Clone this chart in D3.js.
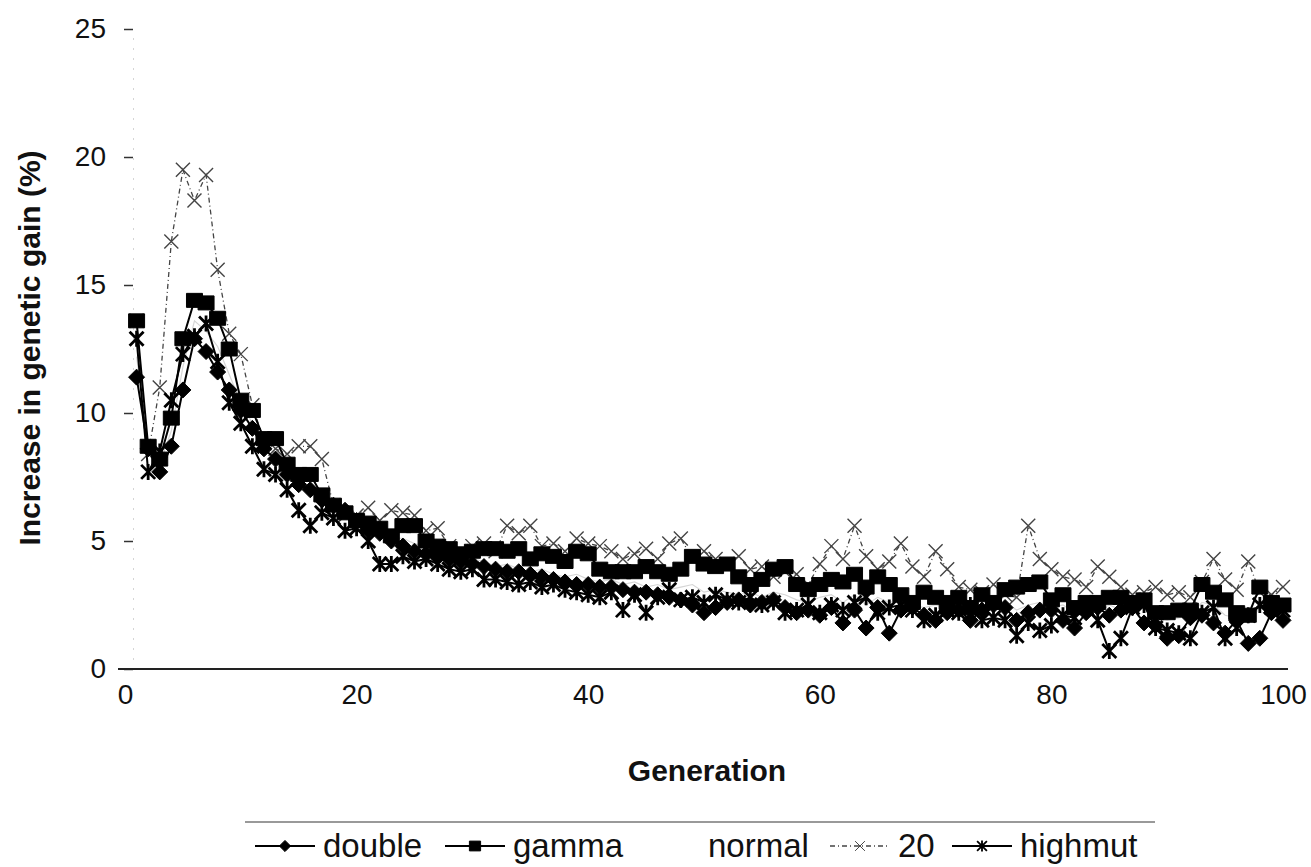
<!DOCTYPE html>
<html lang="en">
<head>
  <meta charset="UTF-8">
  <title>Increase in genetic gain by generation</title>
  <script src="https://d3js.org/d3.v7.min.js"></script>
  <style>
    body { margin: 0; background: #fff; }
    text { font-family: Arial, "Liberation Sans", sans-serif; fill: #111; }
    .axis-title { font-weight: bold; }
  </style>
</head>
<body>
<script>
  // generations on the x axis
  const generations = d3.range(1, 101);

  // series values (% increase in genetic gain)
  const doubleVals = [
    11.4, 8.6, 7.7, 8.7, 10.9, 12.9, 12.4, 11.6, 10.9, 10.1,
    9.4, 8.6, 8.2, 7.6, 7.2, 7.0, 6.6, 6.4, 6.2, 5.8,
    5.4, 5.3, 5.0, 4.8, 4.6, 4.5, 4.4, 4.3, 4.2, 4.1,
    4.0, 3.9, 3.8, 3.8, 3.7, 3.6, 3.5, 3.4, 3.3, 3.3,
    3.2, 3.2, 3.1, 3.0, 3.0, 2.9, 2.8, 2.7, 2.5, 2.2,
    2.4, 2.6, 2.7, 2.5, 2.6, 2.7, 2.4, 2.2, 2.3, 2.1,
    2.4, 1.8, 2.3, 1.6, 2.4, 1.4, 2.3, 2.4, 2.1, 1.9,
    2.2, 2.3, 1.9, 2.3, 2.5, 2.4, 1.9, 2.2, 2.3, 2.3,
    1.9, 1.6, 2.2, 2.4, 2.1, 2.3, 2.4, 1.8, 1.7, 1.2,
    1.3, 2.0, 2.1, 1.8, 1.4, 1.9, 1.0, 1.2, 2.2, 1.9
  ];
  const gammaVals = [
    13.6, 8.7, 8.2, 9.8, 12.9, 14.4, 14.3, 13.7, 12.5, 10.5,
    10.1, 9.0, 9.0, 8.0, 7.6, 7.6, 6.8, 6.4, 6.1, 5.8,
    5.7, 5.5, 5.2, 5.6, 5.6, 5.0, 4.8, 4.7, 4.5, 4.6,
    4.7, 4.7, 4.6, 4.7, 4.3, 4.5, 4.4, 4.2, 4.6, 4.5,
    3.9, 3.8, 3.8, 3.8, 4.0, 3.8, 3.7, 3.9, 4.4, 4.1,
    4.0, 4.1, 3.6, 3.3, 3.5, 3.9, 4.0, 3.3, 3.1, 3.3,
    3.5, 3.4, 3.7, 3.2, 3.6, 3.3, 2.9, 2.6, 3.0, 2.8,
    2.6, 2.8, 2.4, 2.9, 2.6, 3.1, 3.2, 3.3, 3.4, 2.7,
    2.9, 2.4, 2.6, 2.6, 2.8, 2.8, 2.6, 2.7, 2.2, 2.2,
    2.3, 2.3, 3.3, 3.0, 2.7, 2.2, 2.1, 3.2, 2.6, 2.5
  ];
  const normalVals = [
    12.2, 8.8, 8.0, 9.3, 11.8, 13.6, 13.2, 12.6, 11.5, 10.4,
    9.6, 8.8, 8.4, 7.8, 7.3, 7.2, 6.7, 6.3, 6.0, 5.7,
    5.6, 5.3, 5.1, 5.1, 4.9, 4.8, 4.6, 4.5, 4.3, 4.3,
    4.2, 4.0, 4.1, 3.9, 3.8, 3.9, 3.7, 3.6, 3.7, 3.5,
    3.4, 3.5, 3.3, 3.4, 3.2, 3.3, 3.1, 3.2, 3.3, 3.0,
    3.1, 3.0, 2.9, 3.0, 2.8, 3.0, 2.9, 2.7, 2.6, 2.8,
    2.9, 2.6, 2.9, 2.5, 2.8, 2.6, 2.7, 2.5, 2.4, 2.5,
    2.4, 2.6, 2.3, 2.5, 2.4, 2.6, 2.3, 2.5, 2.6, 2.4,
    2.5, 2.2, 2.4, 2.3, 2.5, 2.3, 2.5, 2.4, 2.0, 1.9,
    2.0, 2.1, 2.6, 2.5, 2.1, 2.0, 1.8, 2.4, 2.3, 2.2
  ];
  const twentyVals = [
    13.6, 8.4, 11.0, 16.7, 19.5, 18.3, 19.3, 15.6, 13.1, 12.3,
    10.3, 8.9, 8.6, 8.4, 8.7, 8.7, 8.2, 6.4, 6.0, 6.0,
    6.3, 5.8, 6.2, 6.1, 6.0, 5.4, 5.5, 4.8, 4.6, 4.8,
    4.9, 4.6, 5.6, 5.3, 5.6, 4.8, 4.9, 4.6, 5.1, 4.9,
    4.8, 4.6, 4.3, 4.5, 4.7, 4.3, 4.9, 5.1, 4.3, 4.6,
    4.3, 4.1, 4.4, 3.9, 4.0, 3.6, 3.8, 3.7, 3.3, 4.1,
    4.8, 4.3, 5.6, 4.4, 3.9, 4.2, 4.9, 4.0, 3.6, 4.6,
    3.9, 3.2, 3.1, 3.0, 3.3, 2.9, 2.8, 5.6, 4.3, 3.9,
    3.6, 3.5, 3.2, 4.0, 3.6, 3.2, 2.9, 3.0, 3.2, 2.9,
    3.0, 2.8, 3.4, 4.3, 3.5, 3.1, 4.2, 3.0, 2.9, 3.2
  ];
  const highmutVals = [
    12.9, 7.7, 8.5, 10.5, 12.3, 13.0, 13.5, 12.0, 10.4, 9.6,
    8.7, 7.8, 7.6, 7.0, 6.2, 5.6, 6.1, 5.9, 5.4, 5.5,
    5.0, 4.1, 4.1, 4.4, 4.2, 4.3, 4.1, 3.9, 3.8, 3.9,
    3.5, 3.5, 3.4, 3.3, 3.4, 3.2, 3.3, 3.1, 3.0, 2.9,
    2.8, 3.0, 2.3, 2.9, 2.2, 2.8, 3.1, 2.7, 2.8, 2.6,
    2.9, 2.7, 2.6, 2.8, 2.5, 2.6, 2.2, 2.3, 2.5, 2.2,
    2.5, 2.3, 2.6, 2.8, 2.2, 2.4, 2.5, 2.3, 1.9, 2.1,
    2.3, 2.2, 2.5, 1.9, 2.0, 1.9, 1.3, 1.8, 1.5, 1.7,
    2.1, 2.0, 2.5, 1.9, 0.7, 1.2, 2.4, 2.5, 1.6, 1.5,
    1.4, 1.2, 2.2, 2.4, 1.2, 1.6, 2.1, 2.5, 2.4, 2.3
  ];

  const seriesNames = ["double", "gamma", "normal", "20", "highmut"];
  const yTicks = [0, 5, 10, 15, 20, 25];
  const xTicks = [0, 20, 40, 60, 80, 100];

  // marker shapes (centered at 0,0)
  const markerPath = {
    diamond: "M0,-8L8,0L0,8L-8,0Z",
    square: "M-8,-7H8V7H-8Z",
    cross: "M-7,-7L7,7M-7,7L7,-7",
    star: "M-7,-7L7,7M-7,7L7,-7M0,-8V8",
    none: ""
  };

  const series = [
    { name: "normal", values: normalVals, stroke: "#d6d6d6", width: 1.2, dash: null, marker: "none" },
    { name: "20", values: twentyVals, stroke: "#444", width: 1.3, dash: "5,3,1,3", marker: "cross" },
    { name: "highmut", values: highmutVals, stroke: "#000", width: 2, dash: null, marker: "star" },
    { name: "double", values: doubleVals, stroke: "#000", width: 2, dash: null, marker: "diamond" },
    { name: "gamma", values: gammaVals, stroke: "#000", width: 2, dash: null, marker: "square" }
  ];

  const width = 1311, height = 867;
  const svg = d3.select("body").append("svg")
    .attr("width", width)
    .attr("height", height);

  const x = d3.scaleLinear().domain([0, 100]).range([125, 1283]);
  const y = d3.scaleLinear().domain([0, 25]).range([669, 29]);

  // y axis: faint dotted line with short outside ticks
  const yAxis = svg.append("g")
    .attr("transform", "translate(133,0)")
    .call(d3.axisLeft(y).tickValues(yTicks).tickSize(9).tickPadding(18).tickSizeOuter(0));
  yAxis.select(".domain").attr("stroke", "#aaa").attr("stroke-dasharray", "1,9");
  yAxis.selectAll(".tick line").attr("stroke", "#333").attr("stroke-width", 1.5);
  yAxis.selectAll(".tick text").style("font-size", "28px").attr("fill", "#111");

  // x axis: solid baseline, no tick marks
  const xAxis = svg.append("g")
    .attr("transform", "translate(0,669)")
    .call(d3.axisBottom(x).tickValues(xTicks).tickSize(0).tickPadding(15).tickSizeOuter(0));
  xAxis.select(".domain").attr("stroke", "#222").attr("stroke-width", 2)
    .attr("d", "M118,0H1288");
  xAxis.selectAll(".tick text").style("font-size", "28px").attr("fill", "#111");

  // axis titles
  svg.append("text")
    .attr("class", "axis-title")
    .attr("transform", "translate(40,348) rotate(-90)")
    .attr("text-anchor", "middle")
    .style("font-size", "30px")
    .text("Increase in genetic gain (%)");

  svg.append("text")
    .attr("class", "axis-title")
    .attr("x", 707)
    .attr("y", 781)
    .attr("text-anchor", "middle")
    .style("font-size", "30px")
    .text("Generation");

  // lines and markers
  const line = d3.line()
    .x((d, i) => x(generations[i]))
    .y(d => y(d));

  const plot = svg.append("g");
  series.forEach(s => {
    plot.append("path")
      .datum(s.values)
      .attr("fill", "none")
      .attr("stroke", s.stroke)
      .attr("stroke-width", s.width)
      .attr("stroke-dasharray", s.dash)
      .attr("d", line);

    if (s.marker === "none") return;
    const filled = s.marker === "diamond" || s.marker === "square";
    plot.append("g").selectAll("path")
      .data(s.values)
      .enter().append("path")
      .attr("transform", (d, i) => `translate(${x(generations[i])},${y(d)})`)
      .attr("d", markerPath[s.marker])
      .attr("fill", filled ? "#000" : "none")
      .attr("stroke", s.stroke)
      .attr("stroke-width", s.marker === "star" ? 2.8 : (s.marker === "cross" ? 1.4 : 1));
  });

  // legend
  svg.append("line")
    .attr("x1", 245).attr("x2", 1155)
    .attr("y1", 822).attr("y2", 822)
    .attr("stroke", "#777").attr("stroke-width", 1.5);

  const legendPos = { double: 255, gamma: 445, normal: 640, "20": 830, highmut: 952 };
  const legendStyle = {};
  series.forEach(s => { legendStyle[s.name] = s; });

  const legend = svg.append("g");
  seriesNames.forEach(name => {
    const s = legendStyle[name];
    const lx = legendPos[name];
    const g = legend.append("g").attr("transform", `translate(${lx},846)`);
    g.append("line")
      .attr("x1", 0).attr("x2", 60)
      .attr("stroke", name === "normal" ? "#fff" : s.stroke)
      .attr("stroke-width", s.width)
      .attr("stroke-dasharray", s.dash);
    if (s.marker !== "none") {
      const filled = s.marker === "diamond" || s.marker === "square";
      g.append("path")
        .attr("transform", "translate(30,0) scale(0.7)")
        .attr("d", markerPath[s.marker])
        .attr("fill", filled ? "#000" : "none")
        .attr("stroke", s.stroke)
        .attr("stroke-width", s.marker === "star" ? 2.6 : 1.4);
    }
    g.append("text")
      .attr("x", 68)
      .attr("y", 11)
      .style("font-size", "33px")
      .text(name);
  });
</script>
</body>
</html>
